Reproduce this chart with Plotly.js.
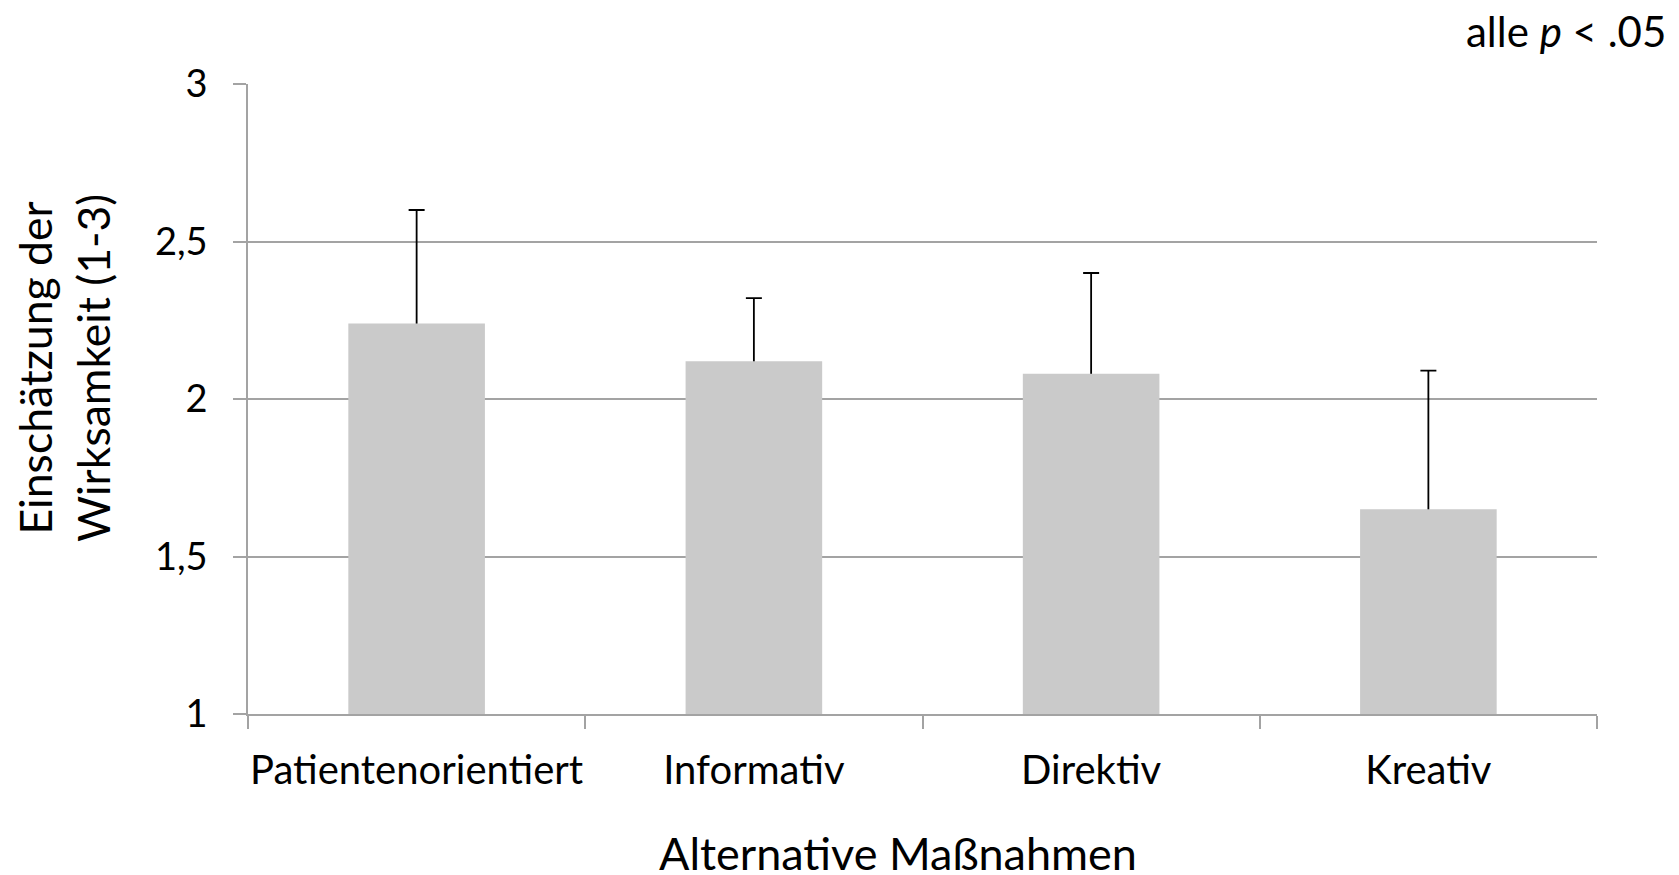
<!DOCTYPE html>
<html>
<head>
<meta charset="utf-8">
<script src="https://cdn.plot.ly/plotly-3.0.1.min.js"></script>
<style>
  html, body { margin: 0; padding: 0; background: #fff; }
  #chart { width: 1679px; height: 875px; }
</style>
</head>
<body>
<div id="chart"></div>
<script>
const categories = ["Patientenorientiert", "Informativ", "Direktiv", "Kreativ"];
const means = [2.24, 2.12, 2.08, 1.65];
const errorsPlus = [0.36, 0.20, 0.32, 0.44];
const yTickValues = [1, 1.5, 2, 2.5, 3];
const xTitle = "Alternative Maßnahmen";
const yTitle = "Einschätzung der<br>Wirksamkeit (1-3)";
const noteText = "alle <i>p</i> < .05";

const FONT = "Lato, 'Open Sans', sans-serif";
const GRID = "#a3a3a3";

// Plot area in pixels
const L = 248, R = 82, T = 84, B = 161;
const W = 1679, H = 875;
const pw = W - L - R, ph = H - T - B;
const px = (x) => (x - L) / pw;
const py = (y) => (H - B - y) / ph;

// Error bars (upper only): drawn on a transparent bar trace underneath the
// visible bars, so the lower part of each whisker is hidden by the bar.
const errorTrace = {
  type: "bar",
  x: categories,
  y: means,
  width: 0.405,
  marker: { color: "rgba(0,0,0,0)", line: { width: 0 } },
  error_y: {
    type: "data",
    symmetric: false,
    array: errorsPlus,
    arrayminus: means.map(() => 0.05),
    color: "#000000",
    thickness: 1.8,
    width: 8
  },
  hoverinfo: "skip"
};

const barTrace = {
  type: "bar",
  x: categories,
  y: means,
  width: 0.405,
  marker: { color: "#cacaca", line: { width: 0 } },
  hoverinfo: "x+y"
};

const layout = {
  width: W,
  height: H,
  paper_bgcolor: "#ffffff",
  plot_bgcolor: "#ffffff",
  separators: ",.",
  showlegend: false,
  barmode: "overlay",
  font: { family: FONT, size: 38, color: "#000000" },
  margin: { l: L, r: R, t: T, b: B, pad: 0 },
  xaxis: {
    type: "category",
    showgrid: false,
    showline: true,
    linecolor: GRID,
    linewidth: 2,
    ticks: "outside",
    tickson: "boundaries",
    ticklen: 13,
    tickwidth: 1.5,
    tickcolor: GRID,
    tickangle: 0,
    tickfont: { family: FONT, size: 40, color: "#000" },
    ticklabelstandoff: 20,
    zeroline: false,
    fixedrange: true
  },
  yaxis: {
    range: [1, 3],
    tickvals: yTickValues,
    showgrid: true,
    gridcolor: GRID,
    gridwidth: 2,
    showline: true,
    linecolor: GRID,
    linewidth: 1.6,
    ticks: "outside",
    ticklen: 13,
    tickwidth: 1.5,
    tickcolor: GRID,
    tickfont: { family: FONT, size: 38, color: "#000" },
    ticklabelstandoff: 18,
    zeroline: false,
    fixedrange: true
  },
  annotations: [
    {
      text: xTitle,
      xref: "paper", yref: "paper",
      x: px(898), y: py(853),
      xanchor: "center", yanchor: "middle",
      showarrow: false,
      font: { family: FONT, size: 45, color: "#000" }
    },
    {
      text: yTitle,
      xref: "paper", yref: "paper",
      x: px(64), y: py(368),
      xanchor: "center", yanchor: "middle",
      textangle: -90,
      showarrow: false,
      font: { family: FONT, size: 44.5, color: "#000" }
    },
    {
      text: noteText,
      xref: "paper", yref: "paper",
      x: px(1668), y: py(31),
      xanchor: "right", yanchor: "middle",
      showarrow: false,
      font: { family: FONT, size: 42, color: "#000" }
    }
  ]
};

Plotly.newPlot("chart", [errorTrace, barTrace], layout, { displayModeBar: false, responsive: false });
</script>
</body>
</html>
